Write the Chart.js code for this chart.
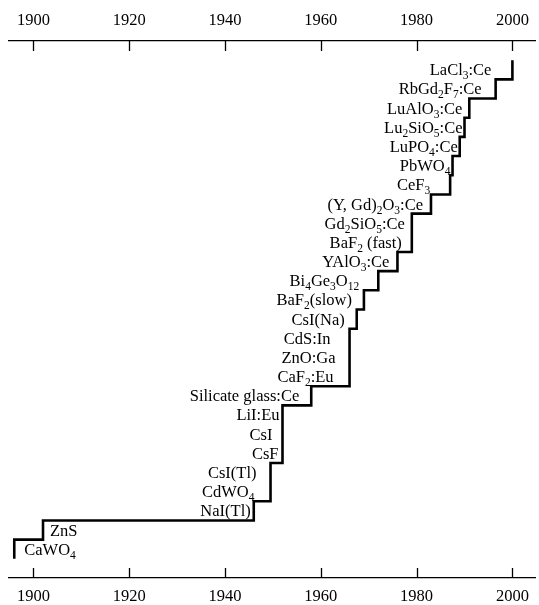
<!DOCTYPE html>
<html>
<head>
<meta charset="utf-8">
<script src="https://cdn.jsdelivr.net/npm/chart.js@4.4.1/dist/chart.umd.min.js"></script>
<style>
  html, body { margin: 0; padding: 0; background: #fff; }
  #wrap { width: 539px; height: 605px; }
</style>
</head>
<body>
<div id="wrap"><canvas id="chart1" width="539" height="605"></canvas></div>
<script>
// scintillator materials, in order of discovery ("_n" = subscript)
const materials = [
  'CaWO_4', 'ZnS', 'NaI(Tl)', 'CdWO_4', 'CsI(Tl)', 'CsF', 'CsI', 'LiI:Eu',
  'Silicate glass:Ce', 'CaF_2:Eu', 'ZnO:Ga', 'CdS:In', 'CsI(Na)', 'BaF_2(slow)',
  'Bi_4Ge_3O_12', 'YAlO_3:Ce', 'BaF_2 (fast)', 'Gd_2SiO_5:Ce', '(Y, Gd)_2O_3:Ce',
  'CeF_3', 'PbWO_4', 'LuPO_4:Ce', 'Lu_2SiO_5:Ce', 'LuAlO_3:Ce', 'RbGd_2F_7:Ce', 'LaCl_3:Ce'
];
const years = [
  1896, 1902, 1946, 1949.5, 1949.5, 1952, 1952, 1952,
  1958, 1966, 1966, 1966, 1967.5, 1969,
  1972, 1976, 1979, 1979, 1983,
  1987, 1987.5, 1989, 1990, 1991, 1996.5, 2000
];
const tickYears = [1900, 1920, 1940, 1960, 1980, 2000];

// px between label and its step (first two labels sit right of the step)
const labelGap = [10, 7, 3, 16, 14, 4, 10, 3, 12, 16, 14, 19, 12, 12, 19, 8, 10, 7, 8, 20, 2, 2, 2, 7, 14, 21];

const serif = '"Liberation Serif", "Times New Roman", serif';
const mainFont = '16.5px ' + serif;
const subFont = '11.5px ' + serif;

// cumulative number of scintillators vs year
let points = [{ x: years[0], y: 0 }];
for (let i = 0; i < years.length; i++) {
  points.push({ x: years[i], y: i + 1 });
}

function splitLabel(str) {
  let parts = [];
  let re = /_(\d+)/g, last = 0, m;
  while ((m = re.exec(str)) !== null) {
    if (m.index > last) parts.push({ text: str.slice(last, m.index), sub: false });
    parts.push({ text: m[1], sub: true });
    last = re.lastIndex;
  }
  if (last < str.length) parts.push({ text: str.slice(last), sub: false });
  return parts;
}

const stepLabels = {
  id: 'stepLabels',
  afterDatasetsDraw(chart) {
    const ctx = chart.ctx;
    const xs = chart.scales.x, ys = chart.scales.y;
    ctx.save();
    ctx.fillStyle = '#000';
    ctx.textBaseline = 'alphabetic';
    ctx.textAlign = 'left';
    materials.forEach((name, i) => {
      const parts = splitLabel(name);
      let w = 0;
      parts.forEach(p => {
        ctx.font = p.sub ? subFont : mainFont;
        w += ctx.measureText(p.text).width;
      });
      const px = xs.getPixelForValue(years[i]);
      const base = ys.getPixelForValue(i + 0.5) + 5.5;
      let x0 = i < 2 ? px + labelGap[i] : px - labelGap[i] - w;
      parts.forEach(p => {
        ctx.font = p.sub ? subFont : mainFont;
        ctx.fillText(p.text, x0, p.sub ? base + 4 : base);
        x0 += ctx.measureText(p.text).width;
      });
    });
    ctx.restore();
  }
};

// tick marks pointing into the plot, top and bottom
const innerTicks = {
  id: 'innerTicks',
  afterDraw(chart) {
    const ctx = chart.ctx;
    ctx.save();
    ctx.strokeStyle = '#000';
    ctx.lineWidth = 1.3;
    ['x', 'x2'].forEach(id => {
      const s = chart.scales[id];
      const edge = id === 'x' ? s.top : s.bottom;
      const dir = id === 'x' ? -1 : 1;
      s.ticks.forEach(t => {
        const px = Math.round(s.getPixelForValue(t.value)) + 0.5;
        ctx.beginPath();
        ctx.moveTo(px, edge);
        ctx.lineTo(px, edge + dir * 10);
        ctx.stroke();
      });
    });
    ctx.restore();
  }
};

function timeAxis(position, pad, height) {
  return {
    type: 'linear',
    position: position,
    min: 1894.9,
    max: 2004.85,
    afterBuildTicks: (s) => { s.ticks = tickYears.map(v => ({ value: v })); },
    afterFit: (s) => { s.height = height; },
    ticks: {
      autoSkip: false,
      maxRotation: 0,
      padding: pad,
      color: '#000',
      font: { family: serif, size: 16.5 },
      callback: (v) => String(v)
    },
    grid: { display: false, drawTicks: false },
    border: { display: true, color: '#000', width: 1.3 }
  };
}

var ctx = document.getElementById('chart1');
var myChart = new Chart(ctx, {
  type: 'line',
  data: {
    datasets: [{
      data: points,
      xAxisID: 'x',
      yAxisID: 'y',
      stepped: 'before',
      borderColor: '#000',
      borderWidth: 2.6,
      borderJoinStyle: 'miter',
      borderCapStyle: 'butt',
      pointRadius: 0,
      fill: false
    }]
  },
  options: {
    responsive: false,
    animation: false,
    devicePixelRatio: 1,
    layout: { padding: { left: 9, right: 0, top: 0, bottom: 0 } },
    plugins: {
      legend: { display: false },
      tooltip: { enabled: false }
    },
    scales: {
      x: timeAxis('bottom', 9.1, 27),
      x2: timeAxis('top', 10.1, 41),
      y: { type: 'linear', min: -1, max: 27, display: false }
    }
  },
  plugins: [stepLabels, innerTicks]
});
</script>
</body>
</html>
